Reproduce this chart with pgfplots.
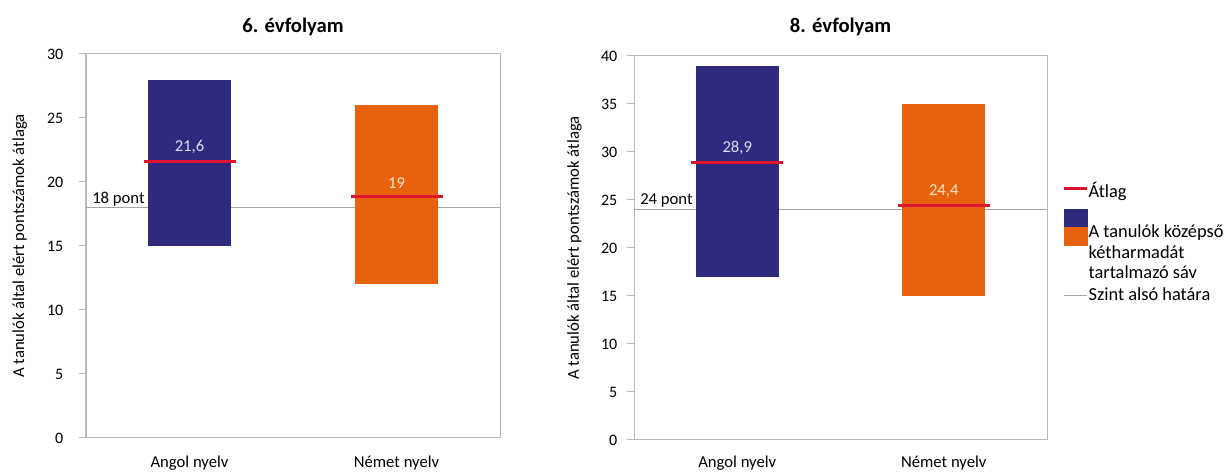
\documentclass[border=0pt]{standalone}
\usepackage{fontspec}
\setmainfont{Carlito}
\usepackage{pgfplots}
\pgfplotsset{compat=1.18}
\definecolor{ablue}{RGB}{47,42,126}
\definecolor{aorange}{RGB}{232,98,14}
\definecolor{ared}{RGB}{222,20,48}
\definecolor{aframe}{RGB}{185,185,185}
\definecolor{aref}{RGB}{165,165,165}
\definecolor{lblue}{RGB}{222,220,245}
\definecolor{lorange}{RGB}{253,230,200}
\newcommand{\ls}{\rule[-2.1pt]{0pt}{14.6pt}}
\newcommand{\lsb}{\rule[-2.1pt]{0pt}{15.6pt}}

\pgfplotsset{
  panel/.style={
    scale only axis, anchor=south west,
    height=288pt,
    xmin=-0.5, xmax=1.5,
    xtick={0,1}, xticklabels={Angol nyelv, Német nyelv},
    xtick pos=bottom, ytick pos=left,
    xtick style={draw=none},
    axis line style={aframe, line width=0.75pt},
    ytick style={aframe, line width=0.75pt},
    tick align=outside, major tick length=5pt,
    ylabel={A tanulók által elért pontszámok átlaga},
    yticklabel style={font=\fontsize{12}{14}\selectfont},
    xticklabel style={font=\fontsize{12.5}{14}\selectfont},
    ylabel style={font=\fontsize{12.5}{14}\selectfont, anchor=center},
    title style={font=\bfseries\fontsize{15.5}{17}\selectfont},
    /pgf/number format/assume math mode=true,
    clip=false,
  },
  meanline/.style={only marks, mark=-, mark size=34.5pt,
    mark options={ared, line width=2.2pt},
    point meta=explicit symbolic, nodes near coords,
    nodes near coords style={font=\fontsize{12.5}{14}\selectfont, anchor=south, yshift=1.5pt, text=#1}},
}

\begin{document}
\begin{tikzpicture}
\useasboundingbox (0,0) rectangle (918pt,354.75pt);

% ---------- 6. évfolyam ----------
\begin{axis}[panel, at={(64.5pt,26.25pt)}, width=310.5pt,
  ymin=0, ymax=30, ytick={0,5,...,30},
  yticklabel style={xshift=-8.5pt},
  xticklabel style={yshift=-5pt},
  ylabel style={at={(axis description cs:-0.16,0.5)}},
  title={6. évfolyam}, title style={yshift=4.5pt}]
  \addplot[aref, line width=0.75pt, forget plot] coordinates {(-0.5,18) (1.5,18)};
  \node[anchor=base west, inner sep=0pt, font=\fontsize{12.5}{14}\selectfont]
     at ([xshift=4.5pt,yshift=3pt]axis cs:-0.5,18) {18 pont};
  \addplot[fill=ablue, draw=none, forget plot] coordinates {(-0.2,15) (0.2,15) (0.2,28) (-0.2,28)} -- cycle;
  \addplot[fill=aorange, draw=none, forget plot] coordinates {(0.8,12) (1.2,12) (1.2,26) (0.8,26)} -- cycle;
  \addplot[meanline=lblue, forget plot] coordinates {(0,21.6) [21,6]};
  \addplot[meanline=lorange, forget plot] coordinates {(1,18.9) [19]};
\end{axis}

% ---------- 8. évfolyam ----------
\begin{axis}[panel, at={(475.5pt,24.75pt)}, width=309.75pt,
  ymin=0, ymax=40, ytick={0,5,...,40},
  yticklabel style={xshift=-4pt},
  xticklabel style={yshift=-3.5pt},
  ylabel style={at={(axis description cs:-0.144,0.5)}},
  title={8. évfolyam}, title style={yshift=6pt},
  legend style={at={(axis description cs:1.0387,0.6737)}, anchor=north west,
    draw=none, fill=none, inner sep=0pt, outer sep=0pt,
    font=\fontsize{13.8}{16}\selectfont,
    nodes={inner sep=0pt},
    /tikz/every even column/.append style={column sep=4.5pt},
    row sep=1.5pt},
  legend cell align=left]
  \addplot[aref, line width=0.75pt, forget plot] coordinates {(-0.5,24) (1.5,24)};
  \node[anchor=base west, inner sep=0pt, font=\fontsize{12.5}{14}\selectfont]
     at ([xshift=4.5pt,yshift=3.5pt]axis cs:-0.5,24) {24 pont};
  \addplot[fill=ablue, draw=none, forget plot] coordinates {(-0.2,17) (0.2,17) (0.2,39) (-0.2,39)} -- cycle;
  \addplot[fill=aorange, draw=none, forget plot] coordinates {(0.8,15) (1.2,15) (1.2,35) (0.8,35)} -- cycle;
  \addplot[meanline=lblue, forget plot] coordinates {(0,28.9) [28,9]};
  \addplot[meanline=lorange, forget plot] coordinates {(1,24.4) [24,4]};

  \addlegendimage{legend image code/.code={\draw[ared, line width=2.2pt] (0pt,1.55pt) -- (17pt,1.55pt);}}
  \addlegendentry{\ls Átlag}
  \addlegendimage{legend image code/.code={\path[draw=none, fill=none] (0pt,0pt) rectangle (17pt,21.2pt);
     \fill[ablue, overlay] (0pt,2.3pt) rectangle (17pt,15.8pt);
     \fill[aorange, overlay] (0pt,2.3pt) rectangle (17pt,-11.2pt);}}
  \addlegendentry{\ls A tanulók középső}
  \addlegendimage{legend image code/.code={}}
  \addlegendentry{\ls kétharmadát}
  \addlegendimage{legend image code/.code={}}
  \addlegendentry{\ls tartalmazó sáv}
  \addlegendimage{legend image code/.code={\draw[aref, line width=0.75pt] (0pt,-2.3pt) -- (17pt,-2.3pt);}}
  \addlegendentry{\lsb Szint alsó határa}
\end{axis}
\end{tikzpicture}
\end{document}
